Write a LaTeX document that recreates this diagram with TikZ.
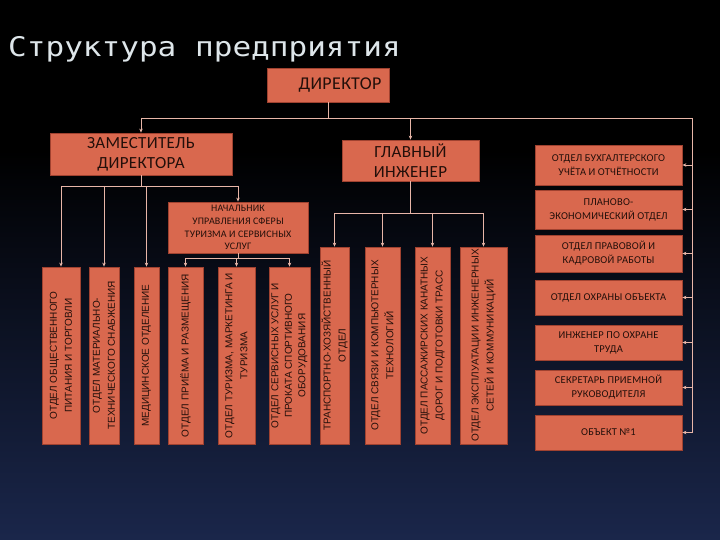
\documentclass[tikz,border=0pt]{standalone}
\usepackage{fontspec}
\usepackage{graphicx}
\usetikzlibrary{arrows.meta,calc}
\newfontfamily\boxfont[LetterSpace=2]{Carlito}
\newfontfamily\vfont{Liberation Sans}
\newfontfamily\bigfont[LetterSpace=2]{Carlito}
\newfontfamily\titlefont{DejaVu Sans Mono}
\definecolor{boxfill}{RGB}{217,104,78}
\definecolor{boxline}{RGB}{160,66,48}
\definecolor{boxtext}{RGB}{35,15,10}
\definecolor{conncol}{RGB}{232,182,168}
\definecolor{bgblue}{RGB}{30,44,86}
\definecolor{titlecol}{RGB}{222,230,234}
\begin{document}
\begin{tikzpicture}[x=1pt,y=-1pt,
  box/.style={draw=boxline, line width=0.8pt, fill=boxfill, text=boxtext, inner sep=1pt, align=center},
  vbox/.style={box, rotate=90, font=\vfont\fontsize{10}{15}\selectfont},
  rbox/.style={box, minimum width=147, font=\boxfont\fontsize{10.5}{14}\selectfont},
  bigbox/.style={box, font=\bigfont\fontsize{17}{20}\selectfont},
  conn/.style={draw=conncol, line width=0.9pt},
  arr/.style={conn, -{Stealth[length=4pt,width=3.5pt]}}]
\useasboundingbox (0,0) rectangle (720,540);
\fill[black] (0,0) rectangle (720,540);
\shade[top color=black, bottom color=bgblue] (0,150) rectangle (720,600);

\node[anchor=base west, text=titlecol, inner sep=0] (title) at (8,57)
  {\scalebox{1.15}[1]{\titlefont\fontsize{27}{30}\selectfont Структура предприятия}};

% top level
\node[bigbox, minimum width=122, minimum height=34, font=\bigfont\fontsize{18}{20}\selectfont] (dir) at (328,85) {\hspace*{24pt}ДИРЕКТОР};
\node[bigbox, minimum width=182, minimum height=42] (dep) at (141,154) {ЗАМЕСТИТЕЛЬ\\ДИРЕКТОРА};
\node[bigbox, minimum width=137, minimum height=41] (eng) at (410.5,160.5) {ГЛАВНЫЙ\\ИНЖЕНЕР};
\node[box, minimum width=140, minimum height=51, font=\boxfont\fontsize{10}{12.8}\selectfont] (nach) at (238,227.5)
  {НАЧАЛЬНИК\\УПРАВЛЕНИЯ СФЕРЫ\\ТУРИЗМА И СЕРВИСНЫХ\\УСЛУГ};

% vertical departments
\node[vbox, minimum width=177, minimum height=38] (b1) at (61,355.5) {ОТДЕЛ ОБЩЕСТВЕННОГО\\ПИТАНИЯ И ТОРГОВЛИ};
\node[vbox, minimum width=177, minimum height=30] (b2) at (104,355.5) {ОТДЕЛ МАТЕРИАЛЬНО-\\ТЕХНИЧЕСКОГО СНАБЖЕНИЯ};
\node[vbox, minimum width=177, minimum height=25] (b3) at (146.5,355.5) {МЕДИЦИНСКОЕ ОТДЕЛЕНИЕ};
\node[vbox, minimum width=177, minimum height=35] (b4) at (185.5,355.5) {ОТДЕЛ ПРИЁМА И РАЗМЕЩЕНИЯ};
\node[vbox, minimum width=177, minimum height=37] (b5) at (236.5,355.5) {ОТДЕЛ ТУРИЗМА, МАРКЕТИНГА И\\ТУРИЗМА};
\node[vbox, minimum width=177, minimum height=41, font=\vfont\fontsize{10}{13.5}\selectfont] (b6) at (289.5,355.5) {ОТДЕЛ СЕРВИСНЫХ УСЛУГ И\\ПРОКАТА СПОРТИВНОГО\\ОБОРУДОВАНИЯ};
\node[vbox, minimum width=197, minimum height=29] (b7) at (334.5,345.5) {ТРАНСПОРТНО-ХОЗЯЙСТВЕННЫЙ\\ОТДЕЛ};
\node[vbox, minimum width=197, minimum height=35] (b8) at (382.5,345.5) {ОТДЕЛ СВЯЗИ И КОМПЬЮТЕРНЫХ\\ТЕХНОЛОГИЙ};
\node[vbox, minimum width=197, minimum height=35] (b9) at (432.5,345.5) {ОТДЕЛ ПАССАЖИРСКИХ КАНАТНЫХ\\ДОРОГ И ПОДГОТОВКИ ТРАСС};
\node[vbox, minimum width=197, minimum height=47] (b10) at (483.5,345.5) {ОТДЕЛ ЭКСПЛУАТАЦИИ ИНЖЕНЕРНЫХ\\СЕТЕЙ И КОММУНИКАЦИЙ};

% right column
\node[rbox, minimum height=40] (rA) at (608.5,165) {ОТДЕЛ БУХГАЛТЕРСКОГО\\УЧЁТА И ОТЧЁТНОСТИ};
\node[rbox, minimum height=39] (rB) at (608.5,209.5) {ПЛАНОВО-\\ЭКОНОМИЧЕСКИЙ ОТДЕЛ};
\node[rbox, minimum height=37] (rC) at (608.5,253.5) {ОТДЕЛ ПРАВОВОЙ И\\КАДРОВОЙ РАБОТЫ};
\node[rbox, minimum height=35] (rD) at (608.5,297.5) {ОТДЕЛ ОХРАНЫ ОБЪЕКТА};
\node[rbox, minimum height=35] (rE) at (608.5,342.5) {ИНЖЕНЕР ПО ОХРАНЕ\\ТРУДА};
\node[rbox, minimum height=35] (rF) at (608.5,387.5) {СЕКРЕТАРЬ ПРИЕМНОЙ\\РУКОВОДИТЕЛЯ};
\node[rbox, minimum height=35] (rG) at (608.5,432.5) {ОБЪЕКТ №1};

% connectors: director
\coordinate (tb) at (0,118);
\coordinate (trunk) at (692,118);
\draw[conn] (dir.south) -- (dir.south |- tb);
\draw[conn] (dep.north |- tb) -- (trunk);
\draw[arr] (dep.north |- tb) -- (dep.north);
\draw[arr] (eng.north |- tb) -- (eng.north);
\draw[conn] (trunk) -- (trunk |- rG.east);
\foreach \r in {rA,rB,rC,rD,rE,rF,rG}{
  \draw[arr] (trunk |- \r.east) -- (\r.east);
}

% deputy
\coordinate (db) at (0,186);
\draw[conn] (dep.south) -- (dep.south |- db);
\draw[conn] (b1.east |- db) -- (nach.north |- db);
\foreach \b in {b1,b2,b3}{
  \draw[arr] (\b.east |- db) -- (\b.east);
}
\draw[arr] (nach.north |- db) -- (nach.north);

% nachalnik
\coordinate (nb) at (0,258);
\draw[conn] (nach.south) -- (nach.south |- nb);
\draw[conn] (b4.east |- nb) -- (b6.east |- nb);
\foreach \b in {b4,b5,b6}{
  \draw[arr] (\b.east |- nb) -- (\b.east);
}

% chief engineer
\coordinate (eb) at (0,213);
\draw[conn] (eng.south) -- (eng.south |- eb);
\draw[conn] (b7.east |- eb) -- (b10.east |- eb);
\foreach \b in {b7,b8,b9,b10}{
  \draw[arr] (\b.east |- eb) -- (\b.east);
}
\end{tikzpicture}
\end{document}
